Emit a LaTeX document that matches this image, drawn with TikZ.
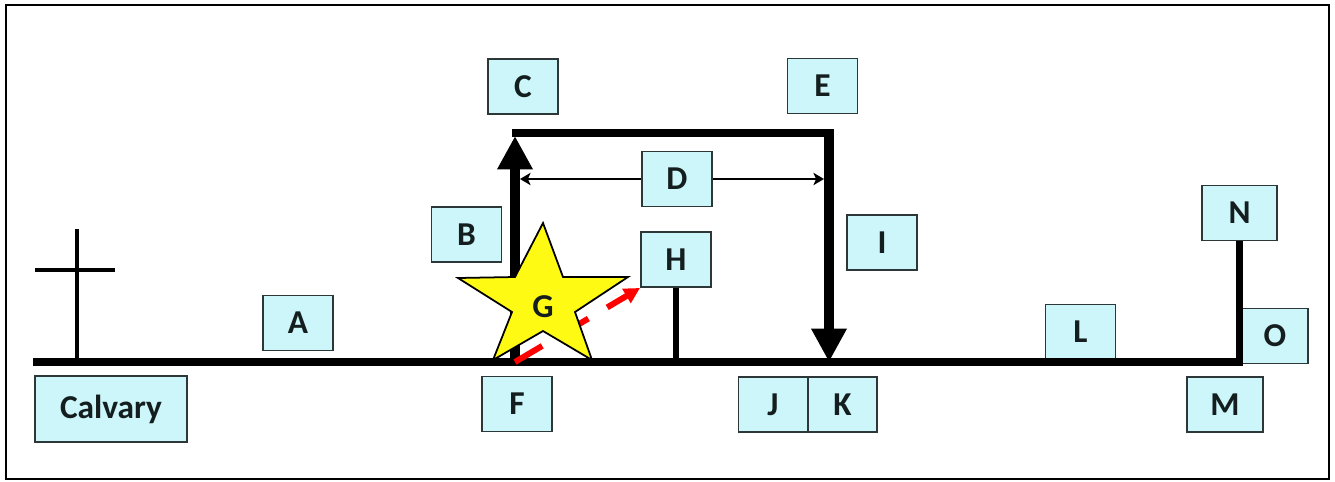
\documentclass[tikz,border=0pt]{standalone}
\usepackage{fontspec}
\setmainfont{Carlito}
\usetikzlibrary{positioning, arrows.meta}
\definecolor{boxfill}{RGB}{204,246,250}
\definecolor{boxline}{RGB}{45,55,55}
\definecolor{textdark}{RGB}{20,30,30}
\definecolor{starfill}{RGB}{255,250,20}

\begin{document}
\begin{tikzpicture}[x=0.02cm, y=-0.02cm,
    box/.style={draw=boxline, line width=1.1pt, fill=boxfill, text=textdark,
      minimum width=1.4cm, minimum height=1.1cm, inner sep=0pt,
      font=\fontsize{19}{22}\selectfont\bfseries},
    track/.style={line width=4pt},
    thin arrow/.style={line width=1.4pt, -{Stealth[length=6pt, width=7pt, inset=1.5pt]}},
    big arrow/.style={line width=5.5pt, -{Triangle[length=19pt, width=19pt]}}]
    \useasboundingbox (0,0) rectangle (1335,481);
    \draw[line width=1.1pt] (6,5) rectangle (1329,479);

    % labels
    \node[box] (C) at (523,86.5) {C};
    \node[box] (E) at (822.5,86) {E};
    \node[box] (D) at (677,179) {D};
    \node[box] (B) at (466.5,234.5) {B};
    \node[box] (H) at (676,259.5) {H};
    \node[box] (I) at (882,242.5) {I};
    \node[box] (A) at (298,323) {A};
    \node[box] (L) at (1080.5,332) {L};
    \node[box, minimum width=1.5cm] (N) at (1239.5,213) {N};
    \node[box, minimum width=1.32cm] (O) at (1275,336) {O};
    \node[box, minimum width=1.52cm] (M) at (1225,404.5) {M};
    \node[box] (F) at (517,404) {F};
    \node[box, minimum width=1.38cm] (J) at (773,404.5) {J};
    \node[box, minimum width=1.38cm] (K) at (842.5,404.5) {K};
    \node[box, minimum width=3.04cm, minimum height=1.32cm] (calvary) at (111,409) {Calvary};

    % ground line and cross
    \coordinate (lineL) at (33,362);
    \coordinate (Fpt) at (515,362);
    \coordinate (Kpt) at (829,362);
    \coordinate (Dl) at (520,179);
    \coordinate (Dr) at (824,179);
    \draw[track, line join=miter] (lineL) -- (N.south |- lineL) -- (N.south);
    \draw[line width=2.8pt] (77,229) -- (77,362);
    \draw[line width=2.8pt] (35,270) -- (115,270);
    \draw[line width=3.4pt] (H.south) -- (H.south |- lineL);

    % bracket
    \draw[line width=4pt] (512,133) -- (834,133);
    \draw[big arrow] (Fpt) -- (515,136);
    \draw[big arrow] (829,130) -- (Kpt);
    \draw[thin arrow] (D.west) -- (Dl);
    \draw[thin arrow] (D.east) -- (Dr);

    % red arrow under the star
    \draw[red, line width=3.4pt, dash pattern=on 18pt off 12.5pt,
      -{Triangle[length=9pt, width=9pt]}] (Fpt) -- (H.south west);

    % star
    \draw[fill=starfill, line width=1pt, line join=miter]
      (543,223) -- (563,277) -- (628,277) -- (575,312) -- (592,360)
      -- (543,331) -- (493,360) -- (512,312) -- (458,278) -- (515,277) -- cycle;
    \node[text=textdark, font=\fontsize{19}{22}\selectfont\bfseries] (G) at (543,307) {G};
\end{tikzpicture}
\end{document}
